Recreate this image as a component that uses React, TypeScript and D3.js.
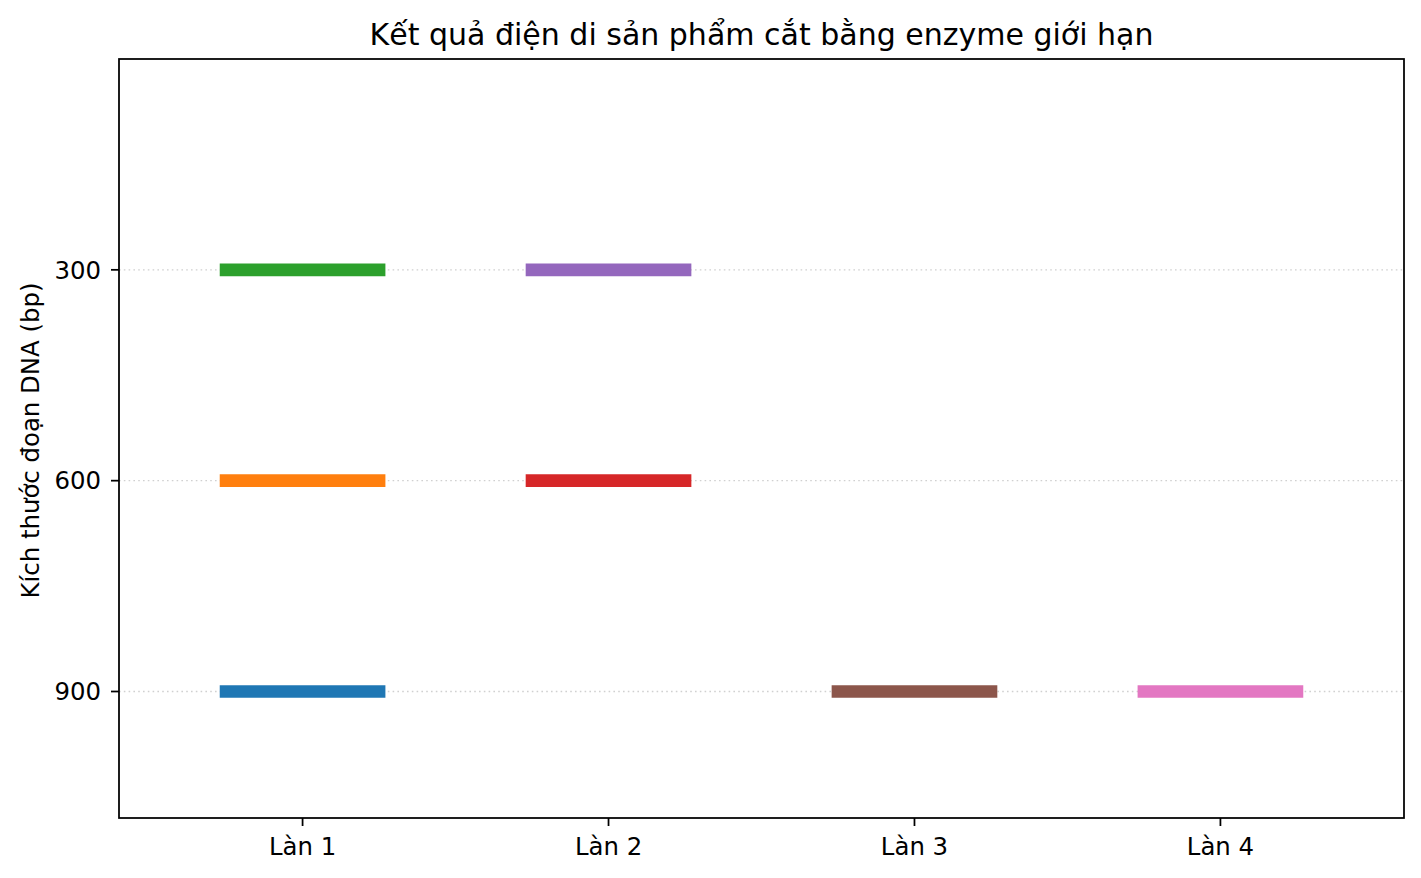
import React from 'react';
import * as d3 from 'd3';

const lanes = ['Làn 1', 'Làn 2', 'Làn 3', 'Làn 4'];
// fragment sizes (bp) per lane, in drawing order
const laneBands: number[][] = [[900, 600, 300], [600, 300], [900], [900]];
const yTicks = [300, 600, 900];
const palette = ['#1f77b4', '#ff7f0e', '#2ca02c', '#d62728', '#9467bd', '#8c564b', '#e377c2', '#7f7f7f', '#bcbd22', '#17becf'];
const title = 'Kết quả điện di sản phẩm cắt bằng enzyme giới hạn';
const yLabel = 'Kích thước đoạn DNA (bp)';

const W = 1421;
const H = 878;
const margin = { top: 59, right: 17, bottom: 60, left: 119 };
const font = 'DejaVu Sans, sans-serif';

const App: React.FC = () => {
  const innerW = W - margin.left - margin.right;
  const innerH = H - margin.top - margin.bottom;

  const x = d3.scaleLinear().domain([0.4, lanes.length + 0.6]).range([0, innerW]);
  const maxBp = d3.max(laneBands.flat()) ?? 900;
  const y = d3.scaleLinear().domain([0, maxBp * 1.2]).range([0, innerH]);

  let ci = 0;
  const bands = laneBands.flatMap((sizes, li) =>
    sizes.map((bp) => ({ lane: li + 1, bp, color: palette[ci++ % palette.length] }))
  );

  const halfW = 0.25;
  const thick = 12.7;

  return (
    <div style={{ position: 'absolute', left: 0, top: 0 }}>
      <svg width={W} height={H} style={{ display: 'block', background: '#fff' }} fontFamily={font}>
        <text x={margin.left + innerW / 2} y={45} textAnchor="middle" fontSize={30} fill="#000">
          {title}
        </text>
        <g transform={`translate(${margin.left},${margin.top})`}>
          {/* grid */}
          {yTicks.map((t) => (
            <line key={'g' + t} x1={0} x2={innerW} y1={y(t)} y2={y(t)}
              stroke="#d0d0d0" strokeWidth={1.4} strokeDasharray="1.6,3.2" />
          ))}
          {/* bands */}
          {bands.map((b, i) => (
            <line key={i} x1={x(b.lane - halfW)} x2={x(b.lane + halfW)} y1={y(b.bp)} y2={y(b.bp)}
              stroke={b.color} strokeWidth={thick} strokeLinecap="square" />
          ))}
          {/* frame */}
          <rect x={0} y={0} width={innerW} height={innerH} fill="none" stroke="#000" strokeWidth={1.76} />
          {/* y ticks */}
          {yTicks.map((t) => (
            <g key={'y' + t} transform={`translate(0,${y(t)})`}>
              <line x1={-8} x2={0} stroke="#000" strokeWidth={1.76} />
              <text x={-18} dy="0.36em" textAnchor="end" fontSize={24.4} fill="#000">{t}</text>
            </g>
          ))}
          {/* x ticks */}
          {lanes.map((l, i) => (
            <g key={l} transform={`translate(${x(i + 1)},${innerH})`}>
              <line y1={0} y2={8} stroke="#000" strokeWidth={1.76} />
              <text y={37} textAnchor="middle" fontSize={24.4} fill="#000">{l}</text>
            </g>
          ))}
        </g>
        <text transform={`translate(39,${margin.top + innerH / 2 + 2}) rotate(-90)`} textAnchor="middle"
          fontSize={24.4} fill="#000">
          {yLabel}
        </text>
      </svg>
    </div>
  );
};

export default App;
